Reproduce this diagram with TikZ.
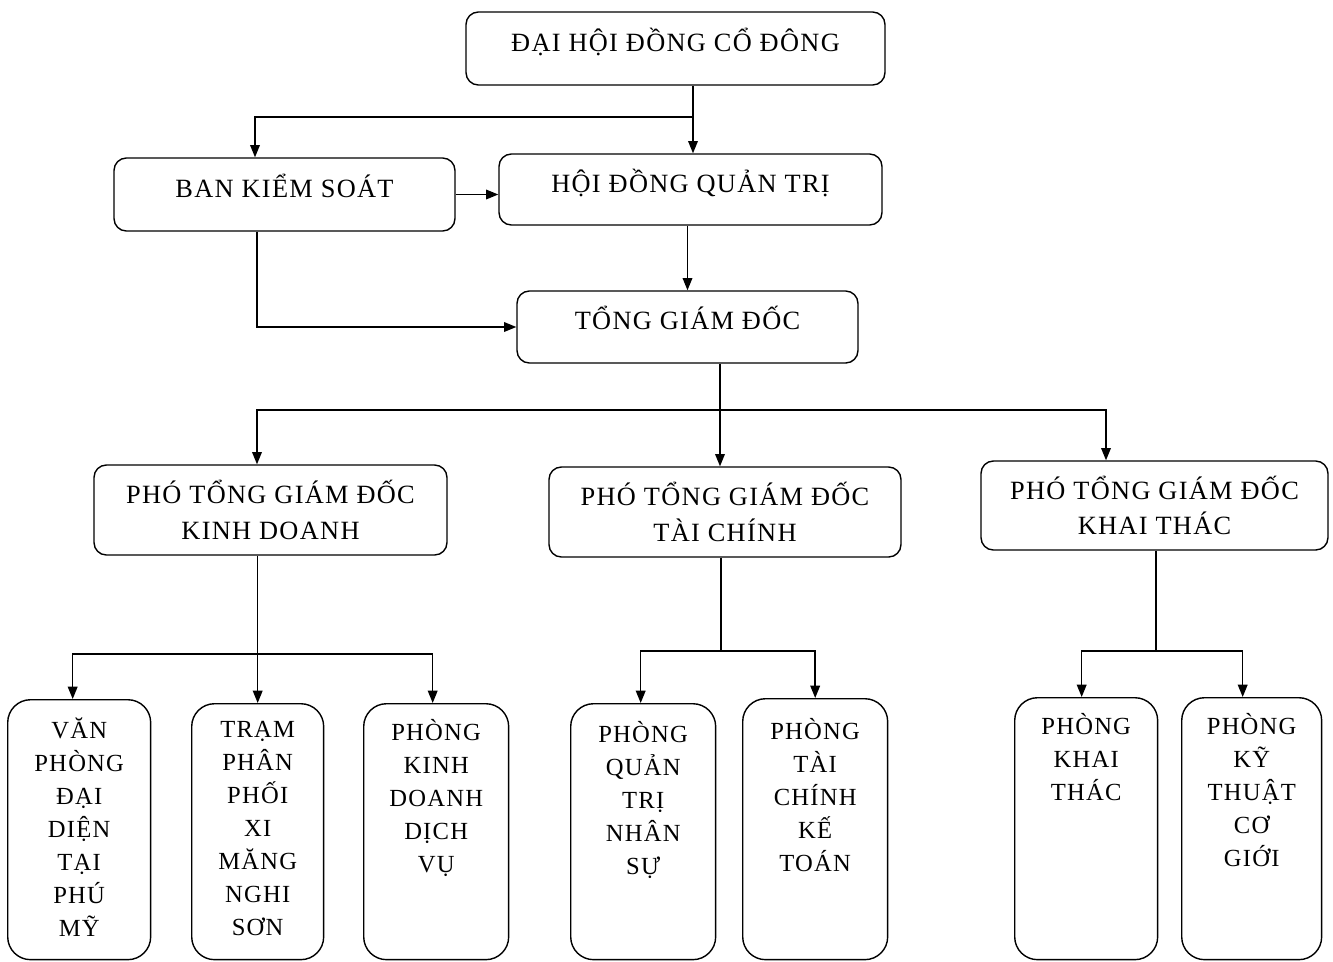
\documentclass[tikz,border=0pt]{standalone}
\usepackage{fontspec}
\setmainfont{Liberation Serif}[LetterSpace=5]
\usetikzlibrary{positioning,arrows.meta}

\begin{document}
\begin{tikzpicture}[
    x=0.02cm, y=-0.02cm,
    every node/.style={
        draw,
        rounded corners=7pt,
        line width=0.8pt,
        align=center,
        inner sep=0pt
    },
    headbox/.style={font=\fontsize{15}{20.4}\selectfont},
    oneline/.style={headbox, text height=10pt, text depth=7pt},
    deptbox/.style={anchor=north west, rounded corners=13pt, font=\fontsize{14}{18.8}\selectfont},
    arrow/.style={-{Triangle[length=7pt,width=5.5pt]}, line width=0.8pt},
    line/.style={line width=0.8pt}
]
\useasboundingbox (0,0) rectangle (1333,961);

% Top level
\node[oneline, minimum width=8.38cm, minimum height=1.46cm] (dhcd) at (675.5,48.5) {ĐẠI HỘI ĐỒNG CỔ ĐÔNG};
\node[oneline, minimum width=6.82cm, minimum height=1.46cm] (bks) at (284.5,194.5) {BAN KIỂM SOÁT};
\node[oneline, minimum width=7.66cm, minimum height=1.42cm] (hdqt) at (690.5,189.5) {HỘI ĐỒNG QUẢN TRỊ};
\node[oneline, minimum width=6.82cm, minimum height=1.44cm] (tgd) at (687.5,327) {TỔNG GIÁM ĐỐC};

% Deputy directors
\node[headbox, minimum width=7.06cm, minimum height=1.80cm] (pkd) at (270.5,510) {PHÓ TỔNG GIÁM ĐỐC\\KINH DOANH};
\node[headbox, minimum width=7.04cm, minimum height=1.80cm] (ptc) at (725,512) {PHÓ TỔNG GIÁM ĐỐC\\TÀI CHÍNH};
\node[headbox, minimum width=6.94cm, minimum height=1.78cm] (pkt) at (1154.5,505.5) {PHÓ TỔNG GIÁM ĐỐC\\KHAI THÁC};

% Departments
\node[deptbox] (vp) at (7,699) {\parbox[c][5.20cm][t]{2.86cm}{\vspace*{10pt}\centering VĂN\\PHÒNG\\ĐẠI\\DIỆN\\TẠI\\PHÚ\\MỸ}};
\node[deptbox] (tram) at (191,703) {\parbox[c][5.12cm][t]{2.64cm}{\vspace*{10pt}\centering TRẠM\\PHÂN\\PHỐI\\XI\\MĂNG\\NGHI\\SƠN}};
\node[deptbox] (kddv) at (363,703) {\parbox[c][5.12cm][t]{2.90cm}{\vspace*{9pt}\centering PHÒNG\\KINH\\DOANH\\DỊCH\\VỤ}};
\node[deptbox] (qtns) at (570,703) {\parbox[c][5.12cm][t]{2.90cm}{\vspace*{10pt}\centering PHÒNG\\QUẢN\\TRỊ\\NHÂN\\SỰ}};
\node[deptbox] (tckt) at (742,698) {\parbox[c][5.22cm][t]{2.90cm}{\vspace*{11pt}\centering PHÒNG\\TÀI\\CHÍNH\\KẾ\\TOÁN}};
\node[deptbox] (kt) at (1014,697) {\parbox[c][5.24cm][t]{2.86cm}{\vspace*{9pt}\centering PHÒNG\\KHAI\\THÁC}};
\node[deptbox] (ktcg) at (1181,697) {\parbox[c][5.24cm][t]{2.80cm}{\vspace*{9pt}\centering PHÒNG\\KỸ\\THUẬT\\CƠ\\GIỚI}};

% Junction points
\coordinate (b0) at (693,117);
\coordinate (b1) at (720,410);
\coordinate (b2) at (257,654);
\coordinate (b3) at (721,651);
\coordinate (b4) at (1156,651);

% Arrows
\draw[arrow] (b0 |- dhcd.south) -- (b0 |- hdqt.north);
\draw[arrow] (b0) -| ([xshift=-0.59cm]bks.north);
\draw[arrow] (bks.east) -- (bks.east -| hdqt.west);
\draw[arrow] (hdqt.south -| tgd.north) -- (tgd.north);
\draw[arrow] ([xshift=-0.55cm]bks.south) |- (tgd.west);

\draw[line] (b1 |- tgd.south) -- (b1);
\draw[arrow] (b1) -| ([xshift=-0.27cm]pkd.north);
\draw[arrow] (b1) -- (b1 |- ptc.north);
\draw[arrow] (b1) -| ([xshift=-0.97cm]pkt.north);

\draw[arrow] (tram.north |- pkd.south) -- (tram.north);
\draw[arrow] (b2) -| ([xshift=-0.13cm]vp.north);
\draw[arrow] (b2) -| ([xshift=-0.07cm]kddv.north);

\draw[line] (b3 |- ptc.south) -- (b3);
\draw[arrow] (b3) -| ([xshift=-0.05cm]qtns.north);
\draw[arrow] (b3) -| (tckt.north);

\draw[line] (b4 |- pkt.south) -- (b4);
\draw[arrow] (b4) -| ([xshift=-0.09cm]kt.north);
\draw[arrow] (b4) -| ([xshift=-0.18cm]ktcg.north);

\end{tikzpicture}
\end{document}
